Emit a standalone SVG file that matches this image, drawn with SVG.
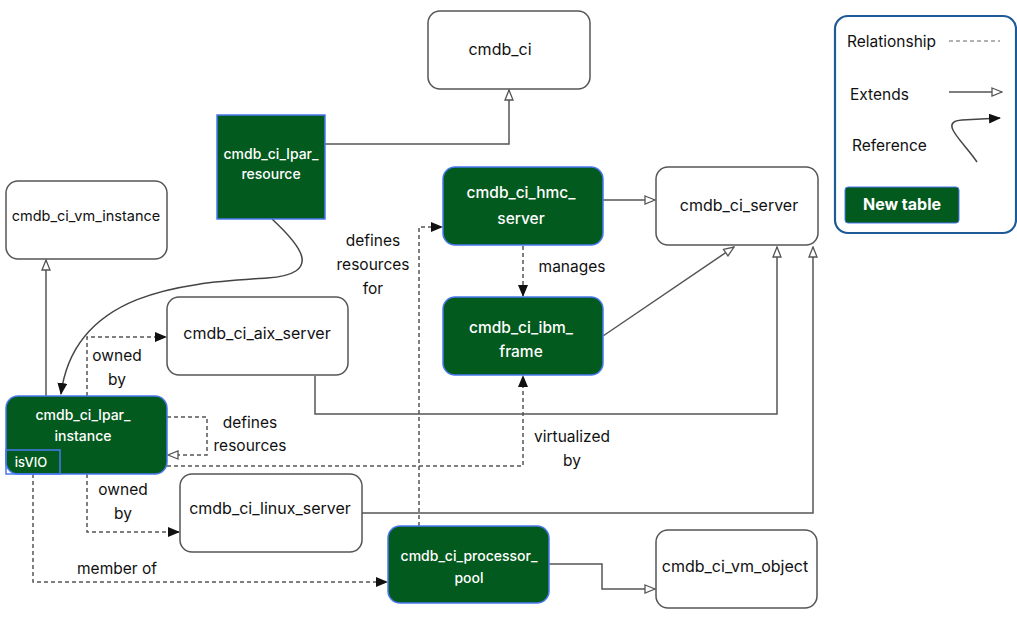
<svg xmlns="http://www.w3.org/2000/svg" width="1017" height="617" viewBox="0 0 1017 617">
<style>
.node{fill:#fff;stroke:#555;stroke-width:1.5}
.new{fill:#035a1e;stroke:#4a78f0;stroke-width:1.5}
.t{font-family:Inter,"Liberation Sans",Arial,sans-serif;font-size:15.5px;fill:#111;text-anchor:middle;dominant-baseline:central}
.n{font-size:16px}
.w{font-family:Inter,"Liberation Sans",Arial,sans-serif;font-size:15.5px;font-weight:500;fill:#fff;text-anchor:middle;dominant-baseline:central}
.ws{font-size:14px}
.lg{font-size:15.5px;text-anchor:start}
.ext{fill:none;stroke:#555;stroke-width:1.5;marker-end:url(#hollow)}
.ref{fill:none;stroke:#444;stroke-width:1.5;marker-end:url(#filled)}
.rel{fill:none;stroke:#555;stroke-width:1.5;stroke-dasharray:4 3;marker-end:url(#filled)}
.relh{fill:none;stroke:#555;stroke-width:1.5;stroke-dasharray:4 3;marker-end:url(#hollow)}
</style>
<defs>
<marker id="hollow" viewBox="0 0 12 10" refX="11" refY="5" markerWidth="12" markerHeight="10" markerUnits="userSpaceOnUse" orient="auto"><path d="M1,1 L11,5 L1,9 z" fill="#fff" stroke="#555" stroke-width="1.3"/></marker>
<marker id="filled" viewBox="0 0 12 10" refX="11" refY="5" markerWidth="12" markerHeight="10" markerUnits="userSpaceOnUse" orient="auto"><path d="M0,0 L12,5 L0,10 z" fill="#111"/></marker>
</defs>

<g id="connectors">
<path class="ext" d="M325,144 H509 V90"/>
<path class="ext" d="M603,200 H655"/>
<path class="ext" d="M603,336 L734,247"/>
<path class="ext" d="M315,376 V414 H777 V247"/>
<path class="ext" d="M362,513 H813 V247"/>
<path class="ext" d="M46,396 V260"/>
<path class="ext" d="M549,564 H602 V589 H655"/>
<path class="ref" d="M272,219 C300,245 325,274 267,278 C200,283 75,285 61,394"/>
<path class="rel" d="M523,246 V296"/>
<path class="rel" d="M87,396 V337 H166"/>
<path class="relh" d="M167,417 H207 V455 H168"/>
<path class="rel" d="M167,466 H523 V376"/>
<path class="rel" d="M87,474 V532 H179"/>
<path class="rel" d="M33,474 V582 H387"/>
<path class="rel" d="M419,526 V227 H442"/>
</g>

<g id="labels">
<text class="t" x="117" y="355">owned</text>
<text class="t" x="117" y="379">by</text>
<text class="t" x="250" y="422">defines</text>
<text class="t" x="250" y="445">resources</text>
<text class="t" x="572" y="436">virtualized</text>
<text class="t" x="572" y="460">by</text>
<text class="t" x="123" y="489">owned</text>
<text class="t" x="123" y="513">by</text>
<text class="t" x="117" y="568">member of</text>
<text class="t" x="373" y="240">defines</text>
<text class="t" x="373" y="264">resources</text>
<text class="t" x="373" y="288">for</text>
<text class="t" x="572" y="266">manages</text>
</g>

<g id="cmdb_ci"><rect class="node" x="428" y="11" width="162" height="78" rx="12"/><text class="t n" x="500" y="49">cmdb_ci</text></g>
<g id="cmdb_ci_lpar_resource"><rect class="new" x="217" y="115" width="108" height="104"/><text class="w ws" x="271" y="153">cmdb_ci_lpar_</text><text class="w ws" x="271" y="173">resource</text></g>
<g id="cmdb_ci_vm_instance"><rect class="node" x="6" y="181" width="161" height="78" rx="12"/><text class="t" x="86" y="215" style="font-size:14.5px">cmdb_ci_vm_instance</text></g>
<g id="cmdb_ci_hmc_server"><rect class="new" x="443" y="167" width="160" height="78" rx="12"/><text class="w" x="521" y="192">cmdb_ci_hmc_</text><text class="w" x="521" y="218">server</text></g>
<g id="cmdb_ci_server"><rect class="node" x="656" y="167" width="162" height="78" rx="12"/><text class="t n" x="739" y="205">cmdb_ci_server</text></g>
<g id="cmdb_ci_aix_server"><rect class="node" x="167" y="297" width="181" height="78" rx="12"/><text class="t n" x="257" y="333">cmdb_ci_aix_server</text></g>
<g id="cmdb_ci_ibm_frame"><rect class="new" x="443" y="297" width="160" height="78" rx="12"/><text class="w" x="521" y="327">cmdb_ci_ibm_</text><text class="w" x="521" y="351">frame</text></g>
<g id="cmdb_ci_lpar_instance"><rect class="new" x="6" y="396" width="161" height="78" rx="12"/><rect x="6" y="450" width="54" height="24" fill="none" stroke="#4a78f0" stroke-width="1.5"/><text class="w ws" x="83" y="414">cmdb_ci_lpar_</text><text class="w ws" x="83" y="435">instance</text><text class="w ws" x="31" y="462" style="font-size:13px">isVIO</text></g>
<g id="cmdb_ci_linux_server"><rect class="node" x="180" y="474" width="182" height="78" rx="12"/><text class="t n" x="270" y="508">cmdb_ci_linux_server</text></g>
<g id="cmdb_ci_processor_pool"><rect class="new" x="388" y="526" width="161" height="77" rx="12"/><text class="w ws" x="469" y="555">cmdb_ci_processor_</text><text class="w ws" x="469" y="577">pool</text></g>
<g id="cmdb_ci_vm_object"><rect class="node" x="656" y="530" width="161" height="78" rx="12"/><text class="t n" x="735" y="566">cmdb_ci_vm_object</text></g>

<g id="legend">
<rect x="835" y="16" width="181" height="217" rx="13" fill="#fff" stroke="#1d5a96" stroke-width="2.2"/>
<text class="t lg" x="847" y="41">Relationship</text>
<path d="M949,41 H1000" stroke="#666" stroke-width="1.2" stroke-dasharray="4 3"/>
<text class="t lg" x="850" y="94">Extends</text>
<path class="ext" d="M949,92 H1002"/>
<text class="t lg" x="852" y="145">Reference</text>
<path class="ref" d="M977,162 C962,140 938,122 962,120 L1000,118"/>
<g id="legend_new_table"><rect x="845" y="187" width="114" height="36" rx="3" fill="#035a1e" stroke="#4a78f0" stroke-width="1"/><text class="w" x="902" y="204" style="font-weight:bold;font-size:16px">New table</text></g>
</g>
</svg>
